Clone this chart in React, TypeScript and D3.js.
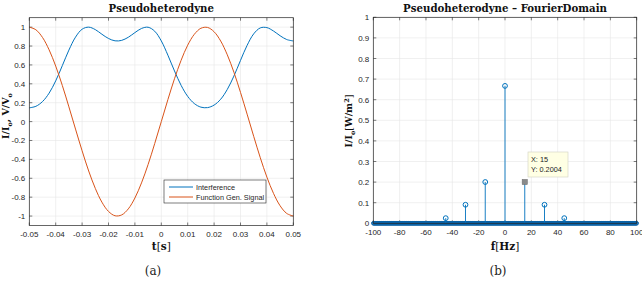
import * as d3 from 'd3';
import React, { useRef, useEffect } from 'react';

// time axis samples (s), every 2.5 ms
const times = [
  -0.05, -0.0475, -0.045, -0.0425, -0.04, -0.0375, -0.035, -0.0325, -0.03, -0.0275,
  -0.025, -0.0225, -0.02, -0.0175, -0.015, -0.0125, -0.01, -0.0075, -0.005, -0.0025,
  0, 0.0025, 0.005, 0.0075, 0.01, 0.0125, 0.015, 0.0175, 0.02, 0.0225,
  0.025, 0.0275, 0.03, 0.0325, 0.035, 0.0375, 0.04, 0.0425, 0.045, 0.0475, 0.05,
];
const interference = [
  0.146, 0.162, 0.212, 0.301, 0.431, 0.592, 0.757, 0.894, 0.978, 1.0,
  0.974, 0.925, 0.880, 0.855, 0.860, 0.893, 0.942, 0.986, 0.999, 0.957,
  0.854, 0.703, 0.536, 0.384, 0.267, 0.191, 0.153, 0.148, 0.175, 0.237,
  0.341, 0.482, 0.648, 0.807, 0.929, 0.992, 0.995, 0.959, 0.909, 0.869, 0.854,
];
const fgSignal = [
  1.0, 0.972, 0.891, 0.760, 0.588, 0.383, 0.156, -0.079, -0.309, -0.523,
  -0.707, -0.853, -0.951, -0.997, -0.988, -0.924, -0.809, -0.649, -0.454, -0.233,
  0, 0.233, 0.454, 0.649, 0.809, 0.924, 0.988, 0.997, 0.951, 0.853,
  0.707, 0.523, 0.309, 0.079, -0.156, -0.383, -0.588, -0.760, -0.891, -0.972, -1.0,
];
const seriesNames = ['Interference', 'Function Gen. Signal'];

// spectrum peaks
const peakFreqs = [-45, -30, -15, 0, 15, 30, 45];
const peakValues = [0.025, 0.09, 0.2004, 0.667, 0.2004, 0.09, 0.025];
const binStep = 0.5; // Hz, spectrum resolution

const leftXTicks = [-0.05, -0.04, -0.03, -0.02, -0.01, 0, 0.01, 0.02, 0.03, 0.04, 0.05];
const leftYTicks = [-1, -0.8, -0.6, -0.4, -0.2, 0, 0.2, 0.4, 0.6, 0.8, 1];
const rightXTicks = [-100, -80, -60, -40, -20, 0, 20, 40, 60, 80, 100];
const rightYTicks = [0, 0.1, 0.2, 0.3, 0.4, 0.5, 0.6, 0.7, 0.8, 0.9, 1];

const BLUE = '#0072BD';
const ORANGE = '#D95319';
const AXIS = '#262626';
const GRID = '#e6e6e6';
const SANS = 'Liberation Sans, Arial, sans-serif';
const SERIF = 'DejaVu Serif, Liberation Serif, serif';

function App() {
  const ref = useRef(null);

  useEffect(() => {
    const svg = d3.select(ref.current);
    svg.selectAll('*').remove();
    svg.append('rect').attr('width', 642).attr('height', 281).attr('fill', 'white');

    // draws a matlab style box with grid + ticks on all sides
    function frame(g, x, y, xt, yt) {
      const [x0, x1] = x.range();
      const [y0, y1] = y.range();
      g.append('g').selectAll('line.gx').data(xt).enter().append('line')
        .attr('x1', d => x(d)).attr('x2', d => x(d)).attr('y1', y0).attr('y2', y1)
        .attr('stroke', GRID).attr('stroke-width', 0.6);
      g.append('g').selectAll('line.gy').data(yt).enter().append('line')
        .attr('y1', d => y(d)).attr('y2', d => y(d)).attr('x1', x0).attr('x2', x1)
        .attr('stroke', GRID).attr('stroke-width', 0.6);
      const ax = g.append('g');
      const tick = 3;
      xt.forEach(d => {
        ax.append('line').attr('x1', x(d)).attr('x2', x(d)).attr('y1', y0).attr('y2', y0 - tick).attr('stroke', AXIS).attr('stroke-width', 0.6);
        ax.append('line').attr('x1', x(d)).attr('x2', x(d)).attr('y1', y1).attr('y2', y1 + tick).attr('stroke', AXIS).attr('stroke-width', 0.6);
      });
      yt.forEach(d => {
        ax.append('line').attr('y1', y(d)).attr('y2', y(d)).attr('x1', x0).attr('x2', x0 + tick).attr('stroke', AXIS).attr('stroke-width', 0.6);
        ax.append('line').attr('y1', y(d)).attr('y2', y(d)).attr('x1', x1).attr('x2', x1 - tick).attr('stroke', AXIS).attr('stroke-width', 0.6);
      });
      return ax;
    }

    function labels(g, x, y, xt, yt) {
      const y0 = y.range()[0];
      g.selectAll('text.xl').data(xt).enter().append('text')
        .attr('x', d => x(d)).attr('y', y0 + 11.3)
        .attr('text-anchor', 'middle').attr('font-family', SANS).attr('font-size', 8).attr('fill', AXIS)
        .text(d => String(d));
      g.selectAll('text.yl').data(yt).enter().append('text')
        .attr('x', x.range()[0] - 4).attr('y', d => y(d) + 3)
        .attr('text-anchor', 'end').attr('font-family', SANS).attr('font-size', 8).attr('fill', AXIS)
        .text(d => String(d));
    }

    function boxOutline(g, x, y) {
      const [x0, x1] = x.range();
      const [y0, y1] = y.range();
      g.append('rect').attr('x', x0).attr('y', y1).attr('width', x1 - x0).attr('height', y0 - y1)
        .attr('fill', 'none').attr('stroke', AXIS).attr('stroke-width', 0.7);
    }

    // ---------- left: time domain ----------
    const xL = d3.scaleLinear().domain([-0.05, 0.05]).range([29.3, 293.3]);
    const yL = d3.scaleLinear().domain([-1.1, 1.1]).range([225.5, 17.7]);
    const gL = svg.append('g');
    frame(gL, xL, yL, leftXTicks, leftYTicks);

    const line = (vals) => d3.line()
      .curve(d3.curveCatmullRom)
      .x((d, i) => xL(times[i]))
      .y(d => yL(d))(vals);

    gL.append('path').attr('d', line(interference)).attr('fill', 'none').attr('stroke', BLUE).attr('stroke-width', 1);
    gL.append('path').attr('d', line(fgSignal)).attr('fill', 'none').attr('stroke', ORANGE).attr('stroke-width', 1);
    boxOutline(gL, xL, yL);
    labels(gL, xL, yL, leftXTicks, leftYTicks);

    // legend
    const leg = gL.append('g').attr('transform', 'translate(164,180)');
    leg.append('rect').attr('width', 102).attr('height', 23).attr('fill', 'white').attr('stroke', AXIS).attr('stroke-width', 0.6);
    [BLUE, ORANGE].forEach((c, i) => {
      const yy = 7 + i * 10;
      leg.append('line').attr('x1', 5).attr('x2', 29).attr('y1', yy).attr('y2', yy).attr('stroke', c).attr('stroke-width', 1);
      leg.append('text').attr('x', 32).attr('y', yy + 2.8).attr('font-family', SANS).attr('font-size', 7.3).attr('fill', AXIS).text(seriesNames[i]);
    });

    gL.append('text').attr('x', 161.3).attr('y', 11.5).attr('text-anchor', 'middle')
      .attr('font-family', SERIF).attr('font-weight', 'bold').attr('font-size', 10.2).attr('fill', '#111')
      .text('Pseudoheterodyne');
    const tl = gL.append('text').attr('x', 161.3).attr('y', 249.5).attr('text-anchor', 'middle')
      .attr('font-family', SERIF).attr('font-size', 10.5).attr('fill', '#111');
    tl.append('tspan').attr('font-weight', 'bold').text('t');
    tl.append('tspan').text('[');
    tl.append('tspan').attr('font-weight', 'bold').text('s');
    tl.append('tspan').text(']');
    const yl = gL.append('text').attr('transform', 'translate(9,116) rotate(-90)').attr('text-anchor', 'middle')
      .attr('font-family', SERIF).attr('font-weight', 'bold').attr('font-size', 9.5).attr('fill', '#111');
    yl.append('tspan').text('I/I');
    yl.append('tspan').attr('font-size', 6.5).attr('dy', 2.5).text('o');
    yl.append('tspan').attr('dy', -2.5).text(', V/V');
    yl.append('tspan').attr('font-size', 6.5).attr('dy', 2.5).text('o');

    svg.append('text').attr('x', 153).attr('y', 275).attr('text-anchor', 'middle')
      .attr('font-family', SERIF).attr('font-size', 12).attr('fill', '#222').text('(a)');

    // ---------- right: fourier domain ----------
    const xR = d3.scaleLinear().domain([-100, 100]).range([373.3, 636.7]);
    const yR = d3.scaleLinear().domain([0, 1]).range([223.3, 17.3]);
    const gR = svg.append('g');
    frame(gR, xR, yR, rightXTicks, rightYTicks);

    // zero-valued bins across the band
    const bins = d3.range(-100, 100 + binStep / 2, binStep);
    gR.selectAll('circle.zero').data(bins).enter().append('circle')
      .attr('cx', d => xR(d)).attr('cy', yR(0)).attr('r', 1.8)
      .attr('fill', 'none').attr('stroke', '#0a62a6').attr('stroke-width', 1);

    gR.selectAll('line.stem').data(peakFreqs).enter().append('line')
      .attr('x1', d => xR(d)).attr('x2', d => xR(d))
      .attr('y1', yR(0)).attr('y2', (d, i) => yR(peakValues[i]))
      .attr('stroke', BLUE).attr('stroke-width', 0.9);
    gR.selectAll('circle.peak').data(peakFreqs).enter().filter(d => d !== 15).append('circle')
      .attr('cx', d => xR(d)).attr('cy', d => yR(peakValues[peakFreqs.indexOf(d)])).attr('r', 2.4)
      .attr('fill', 'none').attr('stroke', BLUE).attr('stroke-width', 1);

    // data tip at f = 15
    const tipI = peakFreqs.indexOf(15);
    gR.append('rect').attr('x', xR(15) - 2.6).attr('y', yR(peakValues[tipI]) - 2.6).attr('width', 5.2).attr('height', 5.2)
      .attr('fill', '#8a8a8a').attr('stroke', '#6a6a6a').attr('stroke-width', 0.5);
    const tip = gR.append('g').attr('transform', 'translate(528,152)');
    tip.append('rect').attr('width', 40).attr('height', 25).attr('fill', '#ffffe4').attr('stroke', '#d8d8c8').attr('stroke-width', 0.7);
    tip.append('text').attr('x', 3).attr('y', 10).attr('font-family', SANS).attr('font-size', 7.3).attr('fill', '#222').text('X: 15');
    tip.append('text').attr('x', 3).attr('y', 20).attr('font-family', SANS).attr('font-size', 7.3).attr('fill', '#222').text('Y: ' + peakValues[tipI]);

    boxOutline(gR, xR, yR);
    labels(gR, xR, yR, rightXTicks, rightYTicks);

    gR.append('text').attr('x', 505).attr('y', 11.5).attr('text-anchor', 'middle')
      .attr('font-family', SERIF).attr('font-weight', 'bold').attr('font-size', 10.2).attr('fill', '#111')
      .text('Pseudoheterodyne \u2013 FourierDomain');
    const fl = gR.append('text').attr('x', 505).attr('y', 249.5).attr('text-anchor', 'middle')
      .attr('font-family', SERIF).attr('font-size', 10.5).attr('fill', '#111');
    fl.append('tspan').attr('font-weight', 'bold').text('f');
    fl.append('tspan').text('[');
    fl.append('tspan').attr('font-weight', 'bold').text('Hz');
    fl.append('tspan').text(']');
    const yr = gR.append('text').attr('transform', 'translate(352,121) rotate(-90)').attr('text-anchor', 'middle')
      .attr('font-family', SERIF).attr('font-weight', 'bold').attr('font-size', 9.5).attr('fill', '#111');
    yr.append('tspan').text('I/I');
    yr.append('tspan').attr('font-size', 6.5).attr('dy', 2.5).text('o');
    yr.append('tspan').attr('font-weight', 'normal').attr('dy', -2.5).text('[');
    yr.append('tspan').text('W/m');
    yr.append('tspan').attr('font-size', 6.5).attr('dy', -3.5).text('2');
    yr.append('tspan').attr('font-weight', 'normal').attr('dy', 3.5).text(']');

    svg.append('text').attr('x', 498).attr('y', 275).attr('text-anchor', 'middle')
      .attr('font-family', SERIF).attr('font-size', 12).attr('fill', '#222').text('(b)');
  }, []);

  return (
    <svg ref={ref} width={642} height={281} style={{ position: 'absolute', left: 0, top: 0 }} />
  );
}

export default App;
